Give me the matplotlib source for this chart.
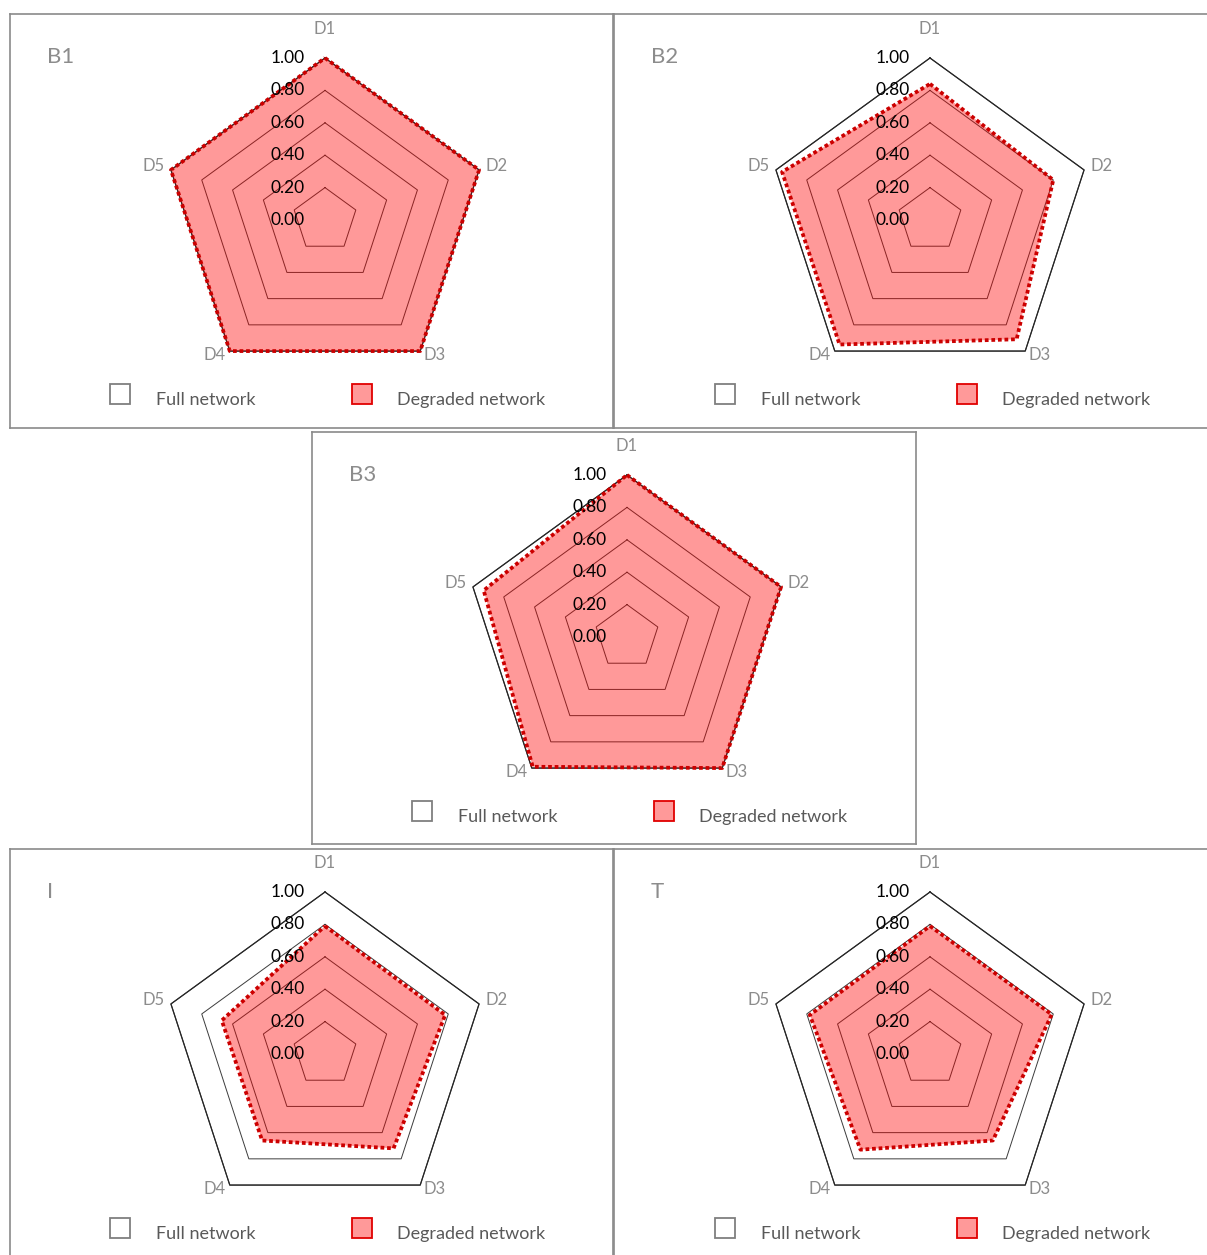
import numpy as np
import matplotlib
matplotlib.use("Agg")
import matplotlib.pyplot as plt
from matplotlib.patches import Rectangle

plt.rcParams["font.family"] = ["Lato", "DejaVu Sans"]

# ---- data -------------------------------------------------------------
categories = ["D1", "D2", "D3", "D4", "D5"]
panel_titles = ["B1", "B2", "B3", "I", "T"]
full_network = [1.00, 1.00, 1.00, 1.00, 1.00]
degraded_b1 = [1.00, 1.00, 1.00, 1.00, 1.00]
degraded_b2 = [0.84, 0.80, 0.91, 0.95, 0.96]
degraded_b3 = [1.00, 1.00, 1.00, 0.99, 0.93]
degraded_i = [0.79, 0.78, 0.72, 0.66, 0.67]
degraded_t = [0.79, 0.79, 0.66, 0.73, 0.78]
grid_levels = [0.00, 0.20, 0.40, 0.60, 0.80, 1.00]
tick_labels = ["0.00", "0.20", "0.40", "0.60", "0.80", "1.00"]
legend_labels = ["Full network", "Degraded network"]

degraded_sets = [degraded_b1, degraded_b2, degraded_b3, degraded_i, degraded_t]

# ---- layout (pixels) --------------------------------------------------
W, H = 1207, 1255
R = 162.0  # pixels for radius 1.0
# box left, top, right, bottom, centre x, centre y
boxes = [
    (10, 14, 613, 428, 325, 220),
    (614, 14, 1209, 428, 930, 220),
    (312, 432, 916, 844, 627, 637),
    (10, 849, 613, 1257, 325, 1054),
    (614, 849, 1209, 1257, 930, 1054),
]

angles = np.pi / 2 - 2 * np.pi * np.arange(len(categories)) / len(categories)


def to_xy(values):
    v = np.asarray(values, dtype=float)
    x = v * np.cos(angles)
    y = v * np.sin(angles)
    return np.append(x, x[0]), np.append(y, y[0])


# label offsets from each spoke tip, in pixels (x right, y up)
cat_offsets = [(0, 29), (17, 4), (14, -4), (-15, -4), (-17, 4)]

fig = plt.figure(figsize=(W / 100, H / 100), dpi=100)

for title, degraded, (x0, y0, x1, y1, cx, cy) in zip(panel_titles, degraded_sets, boxes):
    ax = fig.add_axes([x0 / W, 1 - y1 / H, (x1 - x0) / W, (y1 - y0) / H])
    ax.set_xlim((x0 - cx) / R, (x1 - cx) / R)
    ax.set_ylim((cy - y1) / R, (cy - y0) / R)
    ax.set_xticks([])
    ax.set_yticks([])
    for sp in ax.spines.values():
        sp.set_color("#8a8a8a")
        sp.set_linewidth(1.2)

    # full network area (white) and grid pentagons
    fx, fy = to_xy(full_network)
    ax.fill(fx, fy, facecolor="white", edgecolor="none", zorder=0.5)
    for lvl in grid_levels[1:]:
        gx, gy = to_xy([lvl] * len(categories))
        ax.plot(gx, gy, color="#3c3c3c", lw=0.7, zorder=1)
    ax.plot(fx, fy, color="#262626", lw=0.9, zorder=1.5)

    # degraded network
    dx, dy = to_xy(degraded)
    ax.fill(dx, dy, facecolor="#ff0000", alpha=0.40, edgecolor="none", zorder=2)
    ax.plot(dx, dy, color="#cc0000", lw=2.7, ls=(0, (1, 0.75)), zorder=3)

    # radial tick labels
    for lvl, lab in zip(grid_levels, tick_labels):
        ax.text(-20 / R, lvl, lab, ha="right", va="center", fontsize=12.5,
                color="black", zorder=4)

    # category labels
    tx, ty = to_xy(full_network)
    for i, cat in enumerate(categories):
        ox, oy = cat_offsets[i]
        ax.text(tx[i] + ox / R, ty[i] + oy / R, cat, ha="center", va="center",
                fontsize=12, color="#8c8c8c", zorder=4)

    # panel title
    ax.text((x0 + 37 - cx) / R, (cy - (y0 + 43)) / R, title, ha="left",
            va="center", fontsize=16, color="#8c8c8c")

    # legend keys
    s = 20 / R
    ax.add_patch(Rectangle((-215 / R, -184 / R), s, s, facecolor="white",
                           edgecolor="#7f7f7f", lw=1.3, zorder=4))
    ax.add_patch(Rectangle((27 / R, -184 / R), s, s, facecolor="#ff9999",
                           edgecolor="#e00000", lw=1.3, zorder=4))
    ax.text(-169 / R, -180 / R, legend_labels[0], ha="left", va="center",
            fontsize=13, color="#595959")
    ax.text(72 / R, -180 / R, legend_labels[1], ha="left", va="center",
            fontsize=13, color="#595959")

fig.savefig("out.png", dpi=100, facecolor="white")
